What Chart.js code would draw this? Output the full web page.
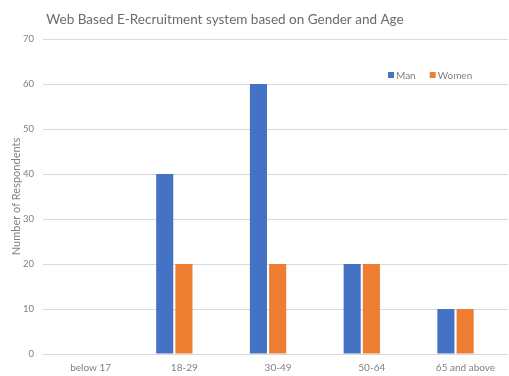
<!DOCTYPE html>
<html>
<head>
<meta charset="utf-8">
<script src="https://cdn.jsdelivr.net/npm/chart.js@4/dist/chart.umd.min.js"></script>
<style>
  html, body { margin: 0; padding: 0; background: #fff; }
  #wrap { position: relative; width: 509px; height: 376px; }
</style>
</head>
<body>
<div id="wrap"><canvas id="c" width="509" height="376"></canvas></div>
<script>
const chartTitle = 'Web Based E-Recruitment system based on Gender and Age';
const axisTitle = 'Number of Respondents';
const ageGroups = ['below 17', '18-29', '30-49', '50-64', '65 and above'];
const seriesNames = ['Man', 'Women'];
const manCounts = [0, 40, 60, 20, 10];
const womenCounts = [0, 20, 20, 20, 10];
const yTicks = [0, 10, 20, 30, 40, 50, 60, 70];

const BLUE = '#4472C4';
const ORANGE = '#ED7D31';
const TEXT = '#808080';
const FONT = 'Lato, "Open Sans", sans-serif';

// age groups sit at integer positions on a numeric x axis
const toPoints = values => values.map((v, i) => ({ x: i, y: v }));

// Title and in-plot legend
const decorations = {
  id: 'decorations',
  afterDraw(chart) {
    const ctx = chart.ctx;
    ctx.save();
    ctx.fillStyle = '#6b6b6b';
    ctx.font = '13.5px ' + FONT;
    ctx.textAlign = 'center';
    ctx.textBaseline = 'middle';
    ctx.fillText(chartTitle, 225, 20);

    ctx.font = '10px ' + FONT;
    ctx.textAlign = 'left';
    let x = 388;
    chart.data.datasets.forEach(ds => {
      ctx.fillStyle = ds.backgroundColor;
      ctx.fillRect(x, 72, 6, 6);
      ctx.fillStyle = TEXT;
      ctx.fillText(ds.label, x + 8, 75.5);
      x += ctx.measureText(ds.label).width + 22;
    });
    ctx.restore();
  }
};

new Chart(document.getElementById('c'), {
  type: 'bar',
  data: {
    datasets: [
      { label: seriesNames[0], data: toPoints(manCounts), backgroundColor: BLUE },
      { label: seriesNames[1], data: toPoints(womenCounts), backgroundColor: ORANGE }
    ]
  },
  options: {
    responsive: false,
    animation: false,
    devicePixelRatio: 1,
    layout: { padding: { top: 39, right: 1, left: 0, bottom: 0 } },
    datasets: { bar: { categoryPercentage: 0.41, barPercentage: 0.89 } },
    plugins: {
      legend: { display: false },
      title: { display: false },
      tooltip: { enabled: false }
    },
    scales: {
      x: {
        type: 'linear',
        offset: false,
        bounds: 'ticks',
        min: -0.401,
        max: 4.56,
        afterBuildTicks(scale) { scale.ticks = ageGroups.map((_, i) => ({ value: i })); },
        grid: { display: false, drawTicks: false, offset: false },
        border: { display: false },
        ticks: {
          color: TEXT,
          font: { family: FONT, size: 10 },
          padding: 8,
          maxRotation: 0,
          autoSkip: false,
          labelOffset: 10,
          callback: v => ageGroups[v]
        },
        afterFit(scale) { scale.height = 22; }
      },
      y: {
        min: 0,
        max: 70,
        afterBuildTicks(scale) { scale.ticks = yTicks.map(v => ({ value: v })); },
        grid: { color: '#d9d9d9', drawTicks: false, lineWidth: 1 },
        border: { display: false },
        ticks: { color: TEXT, font: { family: FONT, size: 9.5 }, padding: 9 },
        title: {
          display: true,
          text: axisTitle,
          color: TEXT,
          font: { family: FONT, size: 11 },
          padding: { top: 10, bottom: 0 }
        },
        afterFit(scale) { scale.width = 43; }
      }
    }
  },
  plugins: [decorations]
});
</script>
</body>
</html>
